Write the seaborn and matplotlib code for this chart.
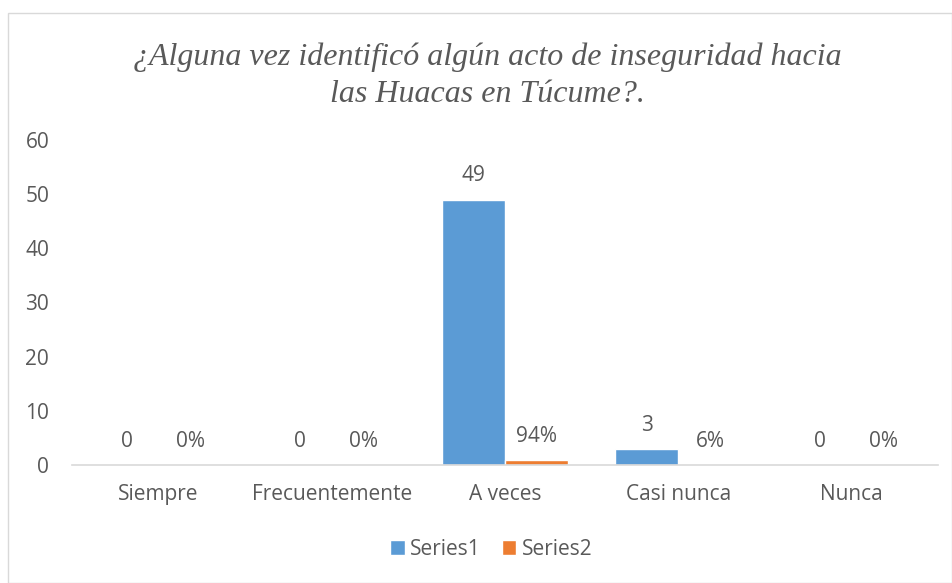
import matplotlib
matplotlib.use("Agg")
import matplotlib.pyplot as plt
import seaborn as sns
import pandas as pd
from matplotlib.patches import Rectangle

categories = ["Siempre", "Frecuentemente", "A veces", "Casi nunca", "Nunca"]
series1 = [0, 0, 49, 3, 0]
series2 = [0.0, 0.0, 0.94, 0.06, 0.0]
series_names = ["Series1", "Series2"]
title = "¿Alguna vez identificó algún acto de inseguridad hacia\nlas Huacas en Túcume?."

sns.set_theme(style="white")
plt.rcParams['font.family'] = ['Open Sans', 'DejaVu Sans']

df = pd.DataFrame({
    "cat": categories * 2,
    "val": series1 + series2,
    "series": [series_names[0]] * 5 + [series_names[1]] * 5,
})

fig = plt.figure(figsize=(9.53, 5.83), dpi=100)
ax = fig.add_axes([0.0756, 0.2024, 0.909, 0.5575])

txt = "#595959"
fs = 15
sns.barplot(data=df, x="cat", y="val", hue="series", order=categories,
            hue_order=series_names, palette=["#5B9BD5", "#ED7D31"],
            width=0.73, ax=ax, legend=True, saturation=1)

ax.set_ylim(0, 60)
ax.set_yticks(range(0, 61, 10))
ax.set_xlim(-0.5, 4.5)
ax.set_xlabel("")
ax.set_ylabel("")
for s in ["top", "right", "left"]:
    ax.spines[s].set_visible(False)
ax.spines["bottom"].set_color("#D9D9D9")
ax.spines["bottom"].set_linewidth(1.2)
ax.tick_params(axis="both", length=0, colors=txt, labelsize=fs)
ax.tick_params(axis="x", pad=14)
ax.tick_params(axis="y", pad=16.5)

labels = [[str(v) for v in series1], [f"{round(v*100)}%" for v in series2]]
for cont, labs in zip(ax.containers, labels):
    for bar, lab in zip(cont, labs):
        x = bar.get_x() + bar.get_width() / 2
        y = bar.get_height()
        ax.annotate(lab, (x, y), xytext=(0, 17), textcoords="offset points",
                    ha="center", va="center", fontsize=fs, color=txt)

leg = ax.legend(loc="center", bbox_to_anchor=(0.484, -0.26), ncol=2, frameon=False,
                fontsize=fs, handlelength=0.7, handleheight=0.7, handletextpad=0.25,
                columnspacing=1.0, labelcolor=txt)

fig.text(0.511, 0.870, title, ha="center", va="center", fontsize=23,
         family="Liberation Serif", style="italic", color=txt, linespacing=1.35)

fig.patches.append(Rectangle((8/953, 0.0), 944/953, (583-13)/583, transform=fig.transFigure,
                             fill=False, edgecolor="#D9D9D9", linewidth=1.0))

fig.savefig("out.png", dpi=100)
